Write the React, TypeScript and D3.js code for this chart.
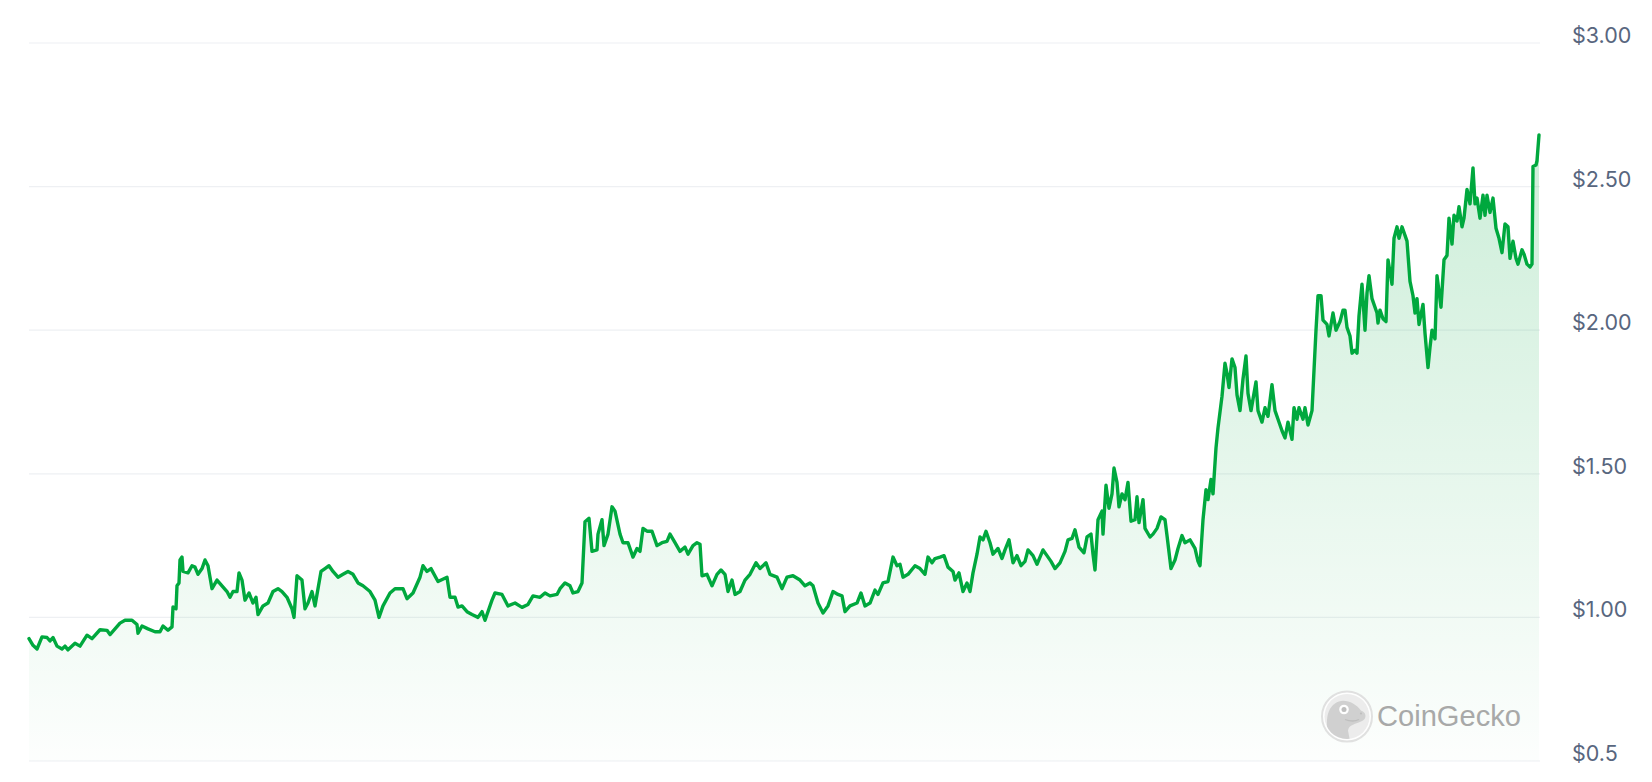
import React from "react";
import * as d3 from "d3";

// [time step, price in USD]
const priceSeries: [number, number][] = [
  [0, 0.926], [4, 0.903], [8, 0.89], [13, 0.932], [18, 0.93], [21, 0.918], [24, 0.93], [28, 0.9],
  [33, 0.89], [36, 0.9], [39, 0.887], [46, 0.91], [51, 0.9], [58, 0.938], [63, 0.926], [71, 0.957],
  [78, 0.955], [81, 0.94], [86, 0.96], [91, 0.98], [96, 0.99], [103, 0.99], [108, 0.975], [109, 0.945],
  [113, 0.97], [119, 0.96], [126, 0.95], [131, 0.95], [134, 0.97], [139, 0.955], [143, 0.967], [144, 1.036],
  [147, 1.03], [148, 1.11], [150, 1.12], [151, 1.2], [153, 1.21], [154, 1.16], [159, 1.155], [163, 1.18],
  [166, 1.175], [169, 1.15], [173, 1.17], [176, 1.2], [179, 1.18], [183, 1.1], [188, 1.13], [193, 1.11],
  [198, 1.09], [201, 1.07], [204, 1.09], [208, 1.09], [210, 1.155], [213, 1.13], [216, 1.06], [220, 1.085],
  [224, 1.05], [227, 1.07], [229, 1.01], [234, 1.04], [239, 1.05], [244, 1.09], [249, 1.1], [253, 1.09],
  [258, 1.07], [263, 1.03], [265, 1.0], [268, 1.145], [273, 1.13], [276, 1.03], [279, 1.05], [283, 1.09],
  [286, 1.04], [292, 1.16], [296, 1.17], [300, 1.18], [304, 1.16], [309, 1.14], [314, 1.15], [319, 1.16],
  [324, 1.15], [329, 1.12], [334, 1.11], [341, 1.09], [346, 1.06], [350, 1.0], [354, 1.04], [361, 1.085],
  [366, 1.1], [371, 1.1], [374, 1.1], [378, 1.065], [384, 1.085], [391, 1.14], [394, 1.18], [398, 1.16],
  [402, 1.17], [409, 1.125], [418, 1.14], [421, 1.07], [426, 1.07], [429, 1.036], [433, 1.04], [438, 1.02],
  [443, 1.01], [449, 1.0], [453, 1.02], [456, 0.99], [463, 1.06], [466, 1.085], [473, 1.08], [479, 1.04],
  [486, 1.05], [493, 1.035], [499, 1.045], [504, 1.075], [511, 1.07], [516, 1.085], [521, 1.075], [528, 1.08],
  [531, 1.1], [536, 1.12], [541, 1.11], [544, 1.085], [549, 1.09], [553, 1.12], [556, 1.333], [560, 1.345],
  [563, 1.23], [568, 1.235], [569, 1.29], [573, 1.34], [575, 1.25], [579, 1.29], [583, 1.385], [586, 1.37],
  [591, 1.29], [594, 1.26], [599, 1.26], [604, 1.21], [608, 1.24], [611, 1.23], [614, 1.31], [618, 1.3],
  [623, 1.3], [628, 1.25], [633, 1.26], [638, 1.265], [641, 1.29], [646, 1.26], [651, 1.23], [656, 1.245],
  [659, 1.22], [664, 1.25], [668, 1.26], [671, 1.255], [673, 1.145], [678, 1.15], [683, 1.11], [688, 1.15],
  [692, 1.165], [696, 1.15], [699, 1.09], [703, 1.13], [706, 1.08], [711, 1.09], [716, 1.13], [721, 1.15],
  [727, 1.19], [731, 1.17], [737, 1.19], [741, 1.15], [748, 1.14], [753, 1.1], [758, 1.14], [764, 1.145],
  [771, 1.13], [776, 1.11], [781, 1.12], [784, 1.11], [789, 1.05], [794, 1.015], [799, 1.04], [804, 1.09],
  [809, 1.08], [813, 1.075], [816, 1.02], [821, 1.04], [828, 1.05], [832, 1.085], [836, 1.04], [841, 1.05],
  [846, 1.095], [849, 1.08], [854, 1.12], [859, 1.125], [864, 1.21], [868, 1.18], [871, 1.185], [874, 1.14],
  [879, 1.15], [886, 1.18], [891, 1.17], [896, 1.15], [899, 1.21], [903, 1.19], [906, 1.205], [911, 1.21],
  [915, 1.215], [919, 1.175], [924, 1.16], [926, 1.13], [930, 1.155], [934, 1.09], [938, 1.12], [941, 1.09],
  [944, 1.155], [948, 1.22], [951, 1.28], [954, 1.27], [957, 1.3], [961, 1.26], [964, 1.22], [969, 1.24],
  [973, 1.205], [976, 1.235], [980, 1.27], [984, 1.19], [988, 1.215], [992, 1.18], [996, 1.195], [999, 1.235],
  [1004, 1.215], [1008, 1.185], [1011, 1.21], [1014, 1.235], [1018, 1.215], [1022, 1.195], [1026, 1.17], [1031, 1.19],
  [1036, 1.23], [1039, 1.27], [1043, 1.275], [1046, 1.305], [1050, 1.245], [1055, 1.225], [1058, 1.28], [1062, 1.29],
  [1064, 1.22], [1066, 1.165], [1069, 1.34], [1073, 1.37], [1074, 1.29], [1077, 1.46], [1080, 1.38], [1083, 1.43],
  [1085, 1.52], [1088, 1.47], [1090, 1.385], [1093, 1.43], [1096, 1.41], [1099, 1.47], [1102, 1.335], [1106, 1.34],
  [1108, 1.42], [1110, 1.33], [1114, 1.41], [1116, 1.31], [1121, 1.28], [1124, 1.29], [1128, 1.31], [1132, 1.35],
  [1136, 1.34], [1138, 1.285], [1142, 1.17], [1146, 1.2], [1149, 1.24], [1153, 1.285], [1156, 1.26], [1161, 1.27],
  [1166, 1.24], [1169, 1.195], [1171, 1.18], [1174, 1.34], [1177, 1.445], [1179, 1.41], [1182, 1.48], [1184, 1.43],
  [1187, 1.59], [1189, 1.66], [1193, 1.77], [1196, 1.885], [1198, 1.85], [1200, 1.8], [1203, 1.9], [1206, 1.87],
  [1208, 1.775], [1211, 1.72], [1214, 1.83], [1217, 1.91], [1219, 1.78], [1222, 1.72], [1224, 1.76], [1227, 1.82],
  [1229, 1.72], [1233, 1.68], [1236, 1.73], [1239, 1.7], [1243, 1.81], [1246, 1.72], [1249, 1.69], [1253, 1.65],
  [1256, 1.625], [1259, 1.68], [1263, 1.62], [1265, 1.73], [1268, 1.69], [1270, 1.73], [1274, 1.69], [1276, 1.73],
  [1279, 1.67], [1283, 1.72], [1285, 1.86], [1287, 2.0], [1289, 2.12], [1292, 2.12], [1294, 2.035], [1298, 2.02],
  [1300, 1.98], [1304, 2.06], [1307, 2.0], [1311, 2.03], [1314, 2.07], [1316, 2.07], [1318, 2.01], [1321, 1.98],
  [1323, 1.92], [1326, 1.93], [1328, 1.92], [1330, 2.05], [1333, 2.16], [1336, 2.0], [1338, 2.13], [1340, 2.19],
  [1343, 2.11], [1348, 2.06], [1349, 2.025], [1351, 2.07], [1354, 2.04], [1357, 2.03], [1359, 2.245], [1363, 2.16],
  [1365, 2.32], [1368, 2.36], [1370, 2.32], [1373, 2.36], [1376, 2.33], [1378, 2.31], [1381, 2.17], [1384, 2.12],
  [1386, 2.06], [1388, 2.11], [1390, 2.02], [1394, 2.09], [1396, 1.99], [1399, 1.87], [1401, 1.94], [1403, 2.0],
  [1406, 1.97], [1408, 2.19], [1412, 2.08], [1415, 2.245], [1418, 2.26], [1420, 2.39], [1423, 2.3], [1425, 2.4],
  [1428, 2.38], [1430, 2.43], [1433, 2.36], [1435, 2.39], [1438, 2.49], [1441, 2.44], [1444, 2.565], [1446, 2.44],
  [1448, 2.46], [1451, 2.39], [1454, 2.47], [1456, 2.4], [1458, 2.47], [1461, 2.41], [1464, 2.46], [1467, 2.355],
  [1470, 2.32], [1473, 2.27], [1476, 2.37], [1479, 2.36], [1481, 2.25], [1484, 2.31], [1487, 2.25], [1489, 2.23],
  [1493, 2.28], [1495, 2.265], [1498, 2.23], [1501, 2.22], [1503, 2.23], [1504, 2.57], [1507, 2.575], [1508, 2.59],
  [1510, 2.68],
];

const yTicks = [0.5, 1.0, 1.5, 2.0, 2.5, 3.0];
const yTickLabels = ["$0.5", "$1.00", "$1.50", "$2.00", "$2.50", "$3.00"];
const watermark = "CoinGecko";

const W = 1652;
const H = 782;
const plot = { left: 29, right: 1540, top: 43, bottom: 761 };

export default function App() {
  const x = d3.scaleLinear().domain([0, 1511]).range([plot.left, plot.right]);
  const y = d3.scaleLinear().domain([0.5, 3.0]).range([plot.bottom, plot.top]);

  const line = d3
    .line<[number, number]>()
    .x((d) => x(d[0]))
    .y((d) => y(d[1]))
    .curve(d3.curveLinear);
  const area = d3
    .area<[number, number]>()
    .x((d) => x(d[0]))
    .y0(plot.bottom)
    .y1((d) => y(d[1]))
    .curve(d3.curveLinear);

  const maxV = d3.max(priceSeries, (d) => d[1]) as number;
  const gx = 1347;
  const gy = 716.5;

  return (
    <svg
      width={W}
      height={H}
      style={{ position: "absolute", left: 0, top: 0, background: "#fff" }}
    >
      <defs>
        <linearGradient id="fillGrad" gradientUnits="userSpaceOnUse" x1="0" x2="0" y1={y(maxV)} y2={plot.bottom}>
          <stop offset="0%" stopColor="#00a83e" stopOpacity={0.2} />
          <stop offset="100%" stopColor="#00a83e" stopOpacity={0.01} />
        </linearGradient>
        <clipPath id="geckoClip">
          <circle cx={gx} cy={gy} r={22.5} />
        </clipPath>
      </defs>

      {yTicks.map((t, i) => (
        <g key={t}>
          <line x1={plot.left} x2={plot.right} y1={y(t)} y2={y(t)} stroke="#eef0f3" strokeWidth={1.2} />
          <text
            x={1572}
            y={y(t)}
            fontFamily="Inter, 'Noto Sans', sans-serif"
            fontSize={21.5}
            fill="#58667e"
          >
            {yTickLabels[i]}
          </text>
        </g>
      ))}

      <path d={area(priceSeries) || ""} fill="url(#fillGrad)" />

      {/* watermark */}
      <g opacity={0.9}>
        <circle cx={gx} cy={gy} r={25} fill="#fff" stroke="#dedede" strokeWidth={2} />
        <circle cx={gx} cy={gy} r={22.5} fill="#ebebeb" />
        <g clipPath="url(#geckoClip)">
          <path
            d={`M ${gx - 16} ${gy + 30} C ${gx - 22} ${gy + 10}, ${gx - 22} ${gy - 6}, ${gx - 12} ${gy - 13}
                C ${gx - 4} ${gy - 19}, ${gx + 8} ${gy - 14}, ${gx + 14} ${gy - 6}
                C ${gx + 20} ${gy - 4}, ${gx + 20} ${gy + 3}, ${gx + 14} ${gy + 5}
                C ${gx + 8} ${gy + 8}, ${gx + 2} ${gy + 8}, ${gx + 1} ${gy + 14}
                L ${gx + 4} ${gy + 30} Z`}
            fill="#cccccc"
          />
        </g>
        <circle cx={gx - 3} cy={gy - 7} r={4.8} fill="#fff" />
        <circle cx={gx - 3} cy={gy - 7} r={2.5} fill="#b8b8b8" />
        <path
          d={`M ${gx - 2} ${gy + 3} Q ${gx + 6} ${gy + 6} ${gx + 12} ${gy + 3}`}
          stroke="#b8b8b8"
          strokeWidth={1.3}
          fill="none"
        />
        <circle cx={gx + 14} cy={gy - 3} r={1.1} fill="#b8b8b8" />
        <text
          x={1377}
          y={725.5}
          fontFamily="'Liberation Sans', Arial, sans-serif"
          fontSize={29.5}
          fill="#a0a0a0"
          textLength={144}
          lengthAdjust="spacingAndGlyphs"
        >
          {watermark}
        </text>
      </g>

      <path
        d={line(priceSeries) || ""}
        fill="none"
        stroke="#00a83e"
        strokeWidth={3.4}
        strokeLinejoin="round"
        strokeLinecap="round"
      />
    </svg>
  );
}
